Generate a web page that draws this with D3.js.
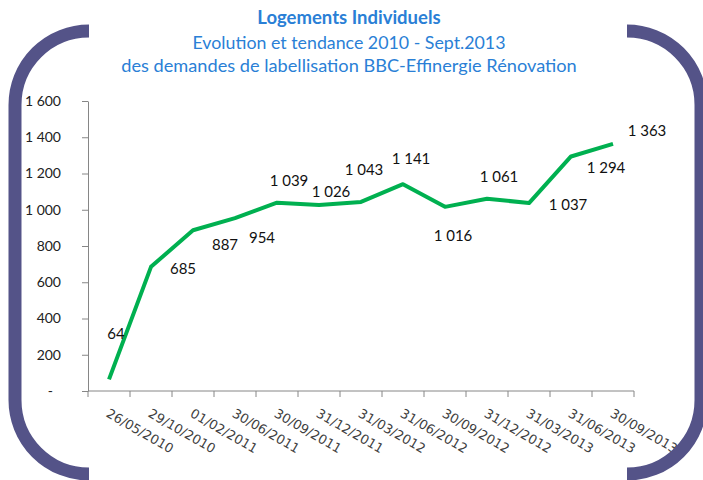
<!DOCTYPE html>
<html><head><meta charset="utf-8">
<script src="https://cdn.jsdelivr.net/npm/d3@7/dist/d3.min.js"></script>
<style>body{margin:0;background:#fff}svg{display:block}</style></head>
<body><svg id="c" width="703" height="480"></svg>
<script>
const categories = ["26/05/2010","29/10/2010","01/02/2011","30/06/2011","30/09/2011","31/12/2011","31/03/2012","31/06/2012","30/09/2012","31/12/2012","31/03/2013","31/06/2013","30/09/2013"];
const values = [64,685,887,954,1039,1026,1043,1141,1016,1061,1037,1294,1363];
const yTicks = [0,200,400,600,800,1000,1200,1400,1600];
const titleLines = ["Logements Individuels","Evolution et tendance 2010 - Sept.2013","des demandes de labellisation BBC-Effinergie Rénovation"];

// layout only: data-label offsets from their point (px)
const labelOffsets = [[7,-46],[32,2],[32,15],[27,20],[12,-22],[12,-13],[3,-32],[8,-25],[8,29],[12,-22],[39,2],[35,11],[34,-13]];

const svg = d3.select("#c");
svg.append("rect").attr("width",703).attr("height",480).attr("fill","#fff");

const x = d3.scaleBand().domain(categories).range([88,634]);
const y = d3.scaleLinear().domain([0,1600]).range([391,101]);
const fmt = v => v === 0 ? "-" : d3.format(",")(v).replace(/,/g," ");
const axisCol = "#868686";

// title
const tcol = "#2a7fd6";
const tys = [18,43,66];
const tsz = [18.5,17.8,18.2];
titleLines.forEach((t,i)=>{
  svg.append("text").attr("x",349).attr("y",tys[i]).attr("dy","0.35em")
    .attr("text-anchor","middle").attr("font-family","Lato, 'Open Sans', sans-serif")
    .attr("font-size", tsz[i]).attr("font-weight", i===0 ? "bold" : "normal")
    .attr("fill", tcol).text(t);
});

// y axis
const yAxis = svg.append("g").attr("transform","translate(88,0)")
  .call(d3.axisLeft(y).tickValues(yTicks).tickSize(6).tickSizeOuter(0).tickFormat(fmt));
yAxis.select(".domain").attr("stroke",axisCol);
yAxis.selectAll(".tick line").attr("stroke",axisCol);
yAxis.selectAll(".tick text").attr("fill","#222").attr("font-family","Lato, sans-serif")
  .attr("font-size",14).attr("x",-27)
  .attr("dx", d => d===0 ? -8 : 0);

// x axis: ticks at band boundaries
const xg = svg.append("g").attr("transform","translate(0,391)");
xg.append("line").attr("x1",x.range()[0]).attr("x2",x.range()[1]).attr("stroke",axisCol);
const bounds = categories.map(c=>x(c)).concat([x.range()[1]]);
xg.selectAll("line.tk").data(bounds).join("line").attr("class","tk")
  .attr("x1",d=>d).attr("x2",d=>d).attr("y1",0).attr("y2",6).attr("stroke",axisCol);
xg.selectAll("text.lbl").data(categories).join("text").attr("class","lbl")
  .attr("transform", d=>`translate(${x(d)+x.bandwidth()/2+1},17) rotate(30)`)
  .attr("dy","0.72em").attr("text-anchor","start")
  .attr("font-family","'DejaVu Sans', Verdana, sans-serif").attr("font-size",13)
  .attr("fill","#404040").text(d=>d);

// line
const cx = (d,i) => x(categories[i]) + x.bandwidth()/2;
svg.append("path").datum(values)
  .attr("d", d3.line().x(cx).y(d=>y(d)))
  .attr("fill","none").attr("stroke","#00b050").attr("stroke-width",4)
  .attr("stroke-linejoin","round");

// data labels
svg.selectAll("text.dl").data(values).join("text").attr("class","dl")
  .attr("x",(d,i)=>cx(d,i)+labelOffsets[i][0])
  .attr("y",(d,i)=>y(d)+labelOffsets[i][1])
  .attr("dy","0.35em").attr("text-anchor","middle")
  .attr("font-family","Lato, sans-serif").attr("font-size",15).attr("fill","#111")
  .text(fmt);

// frame brackets
const fc = "#545388", sw = 13, r = 74, L = 15, R = 701, T = 31, B = 474;
const left = `M${L+r},${T} A${r},${r} 0 0 0 ${L},${T+r} L${L},${B-r} A${r},${r} 0 0 0 ${L+r},${B}`;
const right = `M${R-r},${T} A${r},${r} 0 0 1 ${R},${T+r} L${R},${B-r} A${r},${r} 0 0 1 ${R-r},${B}`;
[left,right].forEach(p=>svg.append("path").attr("d",p).attr("fill","none")
  .attr("stroke",fc).attr("stroke-width",sw));
</script></body></html>
